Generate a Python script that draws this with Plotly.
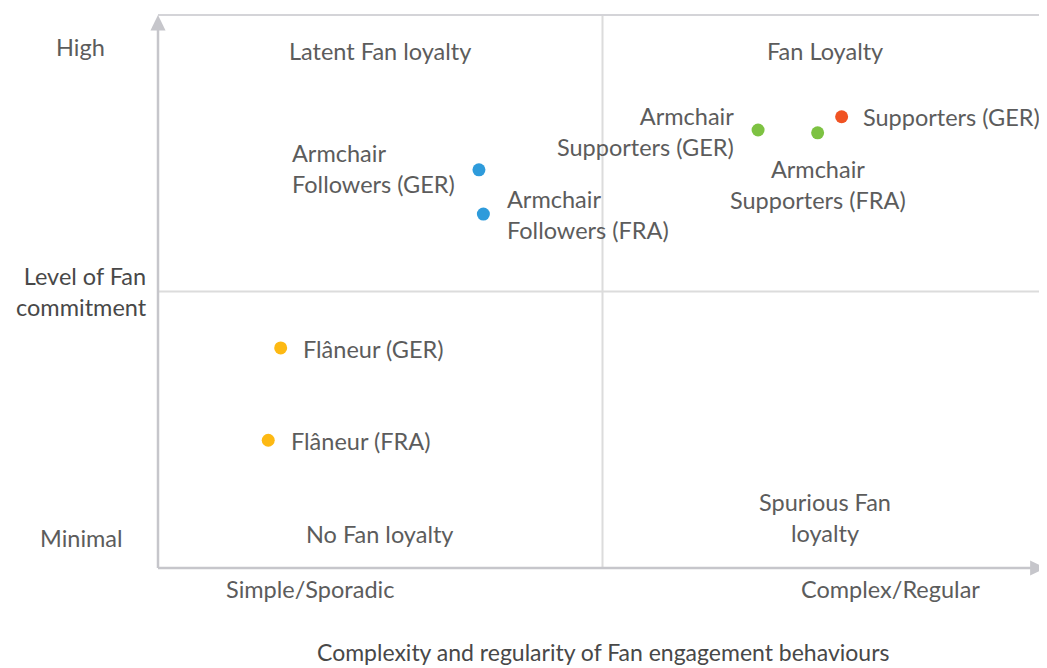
import plotly.graph_objects as go

# fan segments: position on engagement (x) and commitment (y), 0-10 scale
names = ["Supporters (GER)", "Armchair Supporters (GER)", "Armchair Supporters (FRA)",
         "Armchair Followers (GER)", "Armchair Followers (FRA)",
         "Flâneur (GER)", "Flâneur (FRA)"]
x_vals = [7.69, 6.75, 7.42, 3.61, 3.66, 1.38, 1.24]
y_vals = [8.16, 7.92, 7.87, 7.20, 6.40, 3.98, 2.31]
colors = ["#F05323", "#7DC242", "#7DC242", "#2E9BDB", "#2E9BDB", "#FDB913", "#FDB913"]

quadrants = ["Latent Fan loyalty", "Fan Loyalty", "No Fan loyalty", "Spurious Fan<br>loyalty"]
quad_x = [2.5, 7.5, 2.5, 7.5]
quad_y = [9.35, 9.35, 0.62, 0.92]

y_ticks = ["Minimal", "Level of Fan<br>commitment", "High"]
x_ticks = ["Simple/Sporadic", "Complex/Regular"]
x_title = "Complexity and regularity of Fan engagement behaviours"

TXT = "#5c5c5c"
AX = "#c6c6cb"
FONT = "Lato"
FS = 23.5

fig = go.Figure()
fig.add_trace(go.Scatter(x=x_vals, y=y_vals, mode="markers",
                         marker=dict(size=13, color=colors), hoverinfo="text",
                         text=names, showlegend=False))

# point labels (offsets in px)
lab = [
    dict(text="Supporters (GER)", xanchor="left", align="left", xshift=19, yshift=0),
    dict(text="Armchair<br>Supporters (GER)", xanchor="right", align="right", xshift=-22, yshift=-1),
    dict(text="Armchair<br>Supporters (FRA)", xanchor="center", align="center", xshift=0, yshift=-52),
    dict(text="Armchair<br>Followers (GER)", xanchor="right", align="left", xshift=-22, yshift=1),
    dict(text="Armchair<br>Followers (FRA)", xanchor="left", align="left", xshift=22, yshift=0),
    dict(text="Flâneur (GER)", xanchor="left", align="left", xshift=20, yshift=-1),
    dict(text="Flâneur (FRA)", xanchor="left", align="left", xshift=21, yshift=-1),
]
for i, l in enumerate(lab):
    fig.add_annotation(x=x_vals[i], y=y_vals[i], text=l["text"], showarrow=False,
                       xanchor=l["xanchor"], yanchor="middle", xshift=l["xshift"], yshift=l["yshift"],
                       align=l["align"], font=dict(size=FS, color=TXT, family=FONT))

for t, qx, qy in zip(quadrants, quad_x, quad_y):
    fig.add_annotation(x=qx, y=qy, text=t, showarrow=False, xanchor="center", yanchor="middle",
                       font=dict(size=FS, color=TXT, family=FONT))

# y-axis labels
fig.add_annotation(x=0, y=0.54, text=y_ticks[0], showarrow=False, xanchor="center", xshift=-77,
                   font=dict(size=FS, color=TXT, family=FONT))
fig.add_annotation(x=0, y=5, text=y_ticks[1], showarrow=False, xanchor="right", xshift=-9, align="right",
                   font=dict(size=FS, color="#484848", family=FONT))
fig.add_annotation(x=0, y=9.42, text=y_ticks[2], showarrow=False, xanchor="center", xshift=-78,
                   font=dict(size=FS, color=TXT, family=FONT))
# x-axis labels
fig.add_annotation(x=1.71, y=0, text=x_ticks[0], showarrow=False, yanchor="middle", yshift=-21,
                   font=dict(size=FS, color=TXT, family=FONT))
fig.add_annotation(x=8.24, y=0, text=x_ticks[1], showarrow=False, yanchor="middle", yshift=-21,
                   font=dict(size=FS, color=TXT, family=FONT))
fig.add_annotation(x=5, y=0, text=x_title, showarrow=False, yanchor="middle", yshift=-84,
                   font=dict(size=23, color="#484848", family=FONT))

# frame, quadrant dividers and arrows (paper coords so they are not clipped)
shapes = [
    dict(type="line", xref="paper", yref="paper", x0=0.5, x1=0.5, y0=0, y1=1, line=dict(color="#dcdcdc", width=2)),
    dict(type="line", xref="paper", yref="paper", x0=0, x1=1, y0=0.5, y1=0.5, line=dict(color="#dcdcdc", width=2)),
    dict(type="line", xref="paper", yref="paper", x0=0, x1=1, y0=1, y1=1, line=dict(color="#d4d4d8", width=2)),
    dict(type="line", xref="paper", yref="paper", x0=0, x1=0, y0=0, y1=0.98, line=dict(color=AX, width=2.5)),
    dict(type="line", xref="paper", yref="paper", x0=0, x1=0.985, y0=0, y1=0, line=dict(color=AX, width=2.5)),
    dict(type="path", xref="paper", yref="paper", fillcolor=AX, line=dict(width=0),
         path="M 0,1.0 L -0.0085,0.972 L 0.0085,0.972 Z"),
    dict(type="path", xref="paper", yref="paper", fillcolor=AX, line=dict(width=0),
         path="M 0.999,0 L 0.981,0.0135 L 0.981,-0.0135 Z"),
]
fig.update_layout(shapes=shapes)

fig.update_xaxes(range=[0, 10], visible=False, fixedrange=True)
fig.update_yaxes(range=[0, 10], visible=False, fixedrange=True)
# page body has an 8px margin, so the figure is sized/offset to compensate
fig.update_layout(width=1039, height=660, margin=dict(l=150, r=0, t=7, b=100),
                  plot_bgcolor="white", paper_bgcolor="white",
                  font=dict(family=FONT, color=TXT))

fig.write_html("out.html")
